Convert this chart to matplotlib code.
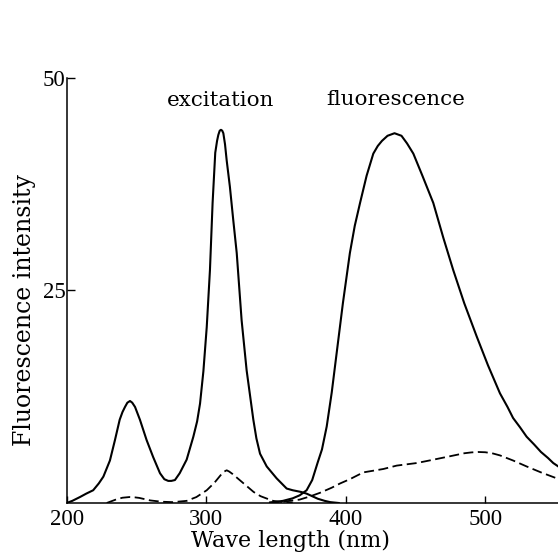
import matplotlib
matplotlib.use("Agg")
import matplotlib.pyplot as plt

# excitation spectrum (solid) - wavelength nm / intensity
exc_wl = [200, 204, 209.5, 214, 219, 223, 226.3, 231, 234.6, 238, 240, 241.8, 243.5, 245.4,
          247, 249, 252.5, 257.3, 262, 266.9, 270, 272.8, 275, 277.6, 281, 286, 290.8,
          293.5, 295.6, 298, 300.4, 302.7, 304.6, 306.5, 307.8, 308.7, 309.7, 310.6, 311.5,
          312.3, 313.5, 314.7, 317, 319.4, 321.9, 325.4, 329, 333.8, 336, 338.6, 343.4,
          350.5, 357.7, 362, 365, 368, 372, 376, 380, 385, 389, 395]
exc_int = [0, 0.25, 0.7, 1.1, 1.5, 2.3, 3.1, 5.0, 7.4, 9.8, 10.7, 11.3, 11.8, 12.0,
           11.8, 11.3, 9.8, 7.4, 5.4, 3.5, 2.8, 2.6, 2.6, 2.7, 3.5, 5.1, 7.8,
           9.6, 11.7, 15.5, 20.7, 27.4, 35.3, 41.2, 42.6, 43.3, 43.8, 43.9, 43.8,
           43.5, 42.2, 40.3, 37.2, 33.3, 29.4, 21.5, 15.6, 9.8, 7.6, 5.8, 4.3,
           2.9, 1.7, 1.5, 1.4, 1.3, 1.1, 0.8, 0.5, 0.25, 0.1, 0]

# fluorescence spectrum (solid)
flu_wl = [346, 355, 362, 367, 372, 376, 380, 383, 386.4, 390, 393.5, 398, 403, 406.5,
          410.3, 415, 419.8, 423, 426, 430, 435, 440, 444, 448.5, 455, 462.8, 470, 477.1,
          485, 493.9, 502, 510.6, 516, 520, 525, 529.7, 535, 540, 545, 548.8, 556]
flu_int = [0.05, 0.25, 0.55, 0.9, 1.5, 2.7, 4.8, 6.3, 9.0, 13, 17.6, 23.5, 29.4, 32.6,
           35.3, 38.5, 41.1, 42.0, 42.6, 43.2, 43.5, 43.2, 42.3, 41.1, 38.5, 35.3, 31.2, 27.4,
           23.5, 19.6, 16.2, 12.9, 11.3, 10.0, 8.9, 7.8, 6.9, 6.0, 5.3, 4.7, 3.9]

# control (dashed)
exc2_wl = [228.7, 236, 240, 245, 249, 252, 260, 268, 276, 286, 293, 300.4, 306, 311,
           313, 314.7, 316.5, 319, 324, 329, 334, 339, 343, 348, 355, 362]
exc2_int = [0, 0.45, 0.62, 0.7, 0.66, 0.6, 0.3, 0.15, 0.1, 0.25, 0.7, 1.5, 2.4, 3.4,
            3.7, 3.85, 3.7, 3.4, 2.7, 2.0, 1.3, 0.8, 0.55, 0.25, 0.1, 0.05]

flu2_wl = [345, 355, 367, 374, 381.6, 390, 396, 403, 412.6, 427, 436.6, 450.9, 460, 474.8,
           485, 490, 495, 500, 505, 510.6, 520, 529.7, 540, 551.3, 556]
flu2_int = [0.05, 0.15, 0.4, 0.75, 1.2, 1.8, 2.3, 2.8, 3.6, 4.0, 4.4, 4.7, 5.0, 5.5,
            5.85, 5.95, 6.0, 5.97, 5.85, 5.6, 5.0, 4.3, 3.6, 2.9, 2.7]

plt.rcParams["font.family"] = "DejaVu Serif"

fig = plt.figure(figsize=(5.58, 5.55), dpi=100)
ax = fig.add_axes([0.1195, 0.0937, 0.8805, 0.7658])

ax.plot(exc_wl, exc_int, color="black", lw=1.5)
ax.plot(flu_wl, flu_int, color="black", lw=1.5)
ax.plot(exc2_wl, exc2_int, color="black", lw=1.3, dashes=(5.5, 2.5))
ax.plot(flu2_wl, flu2_int, color="black", lw=1.3, dashes=(5.5, 2.5))

ax.set_xlim(200, 552.2)
ax.set_ylim(0, 50)
ax.spines["top"].set_visible(False)
ax.spines["right"].set_visible(False)
ax.spines["left"].set_linewidth(1.1)
ax.spines["bottom"].set_linewidth(1.1)

ax.set_xticks([200, 300, 400, 500])
ax.set_yticks([25, 50])
ax.tick_params(axis="x", direction="in", length=5, width=1, pad=4)
ax.tick_params(axis="y", direction="in", length=6, width=1, pad=1)
for lbl in ax.get_xticklabels() + ax.get_yticklabels():
    lbl.set_fontfamily("Liberation Serif")
    lbl.set_fontsize(16.5)

ax.set_xlabel("Wave length (nm)", fontsize=16, va="baseline")
ax.xaxis.set_label_coords(0.4565, -0.1035)
ax.set_ylabel("Fluorescence intensity", fontsize=17, va="center", ha="center")
ax.yaxis.set_label_coords(-0.085, 0.454)

ax.text(310.6, 46.7, "excitation", fontsize=15.4, ha="center", va="baseline")
ax.text(436, 46.8, "fluorescence", fontsize=15.4, ha="center", va="baseline")

fig.savefig("out.png", dpi=100)
